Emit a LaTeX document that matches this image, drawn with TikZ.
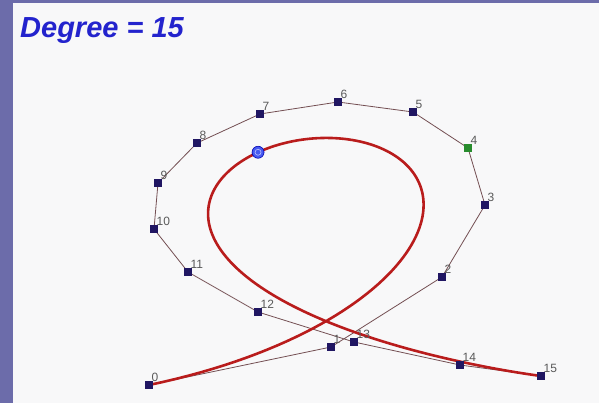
\documentclass[tikz,border=0pt]{standalone}
\usepackage{fontspec}
\setmainfont{Liberation Sans}
\usepackage{xcolor}
\usetikzlibrary{positioning, fpu}
\definecolor{slideblue}{RGB}{108, 108, 170}
\definecolor{paper}{RGB}{248, 248, 249}
\definecolor{titleblue}{RGB}{35, 35, 205}
\definecolor{ctrlnavy}{RGB}{32, 22, 98}
\definecolor{ctrlgreen}{RGB}{40, 140, 45}
\definecolor{polybrown}{RGB}{115, 78, 82}
\definecolor{curvered}{RGB}{185, 28, 28}
\definecolor{dotblue}{RGB}{70, 90, 240}

\begin{document}
\begin{tikzpicture}[
			x=1pt, y=-1pt,
			ctrl/.style={rectangle, fill=ctrlnavy, minimum size=8.5pt, inner sep=0pt},
			num/.style={anchor=south west, inner sep=0pt, font=\fontsize{12}{12}\selectfont, text=black!65},
			poly/.style={draw=polybrown, line width=0.8pt},
			curve/.style={draw=curvered, line width=2.6pt, line cap=round, line join=round}
		]
		\useasboundingbox (0,0) rectangle (599,403);
		\fill[slideblue] (0,0) rectangle (599,403);
		\fill[paper] (13,3) rectangle (599,403);
		
		\node[anchor=base west, inner sep=0pt, text=titleblue, font=\fontsize{29}{30}\selectfont\bfseries\itshape] (title) at (20,38) {Degree = 15};
		
		% control points, binomial weights for degree 15
		\let\tp\relax
		\def\bezx{0}\def\bezy{0}
		\foreach \px/\py/\c [count=\k from 0] in {149/385/1, 331/347/15, 442/277/105, 485/205/455, 468/148/1365, 413/112/3003, 338/102/5005, 260/114/6435, 197/143/6435, 158/183/5005, 154/229/3003, 188/272/1365, 258/312/455, 354/342/105, 460/365/15, 541/376/1}{
			\pgfmathtruncatemacro\m{15-\k}
			\xdef\bezx{\bezx+(\c*\tp^\k*(1-\tp)^\m)*\px}
			\xdef\bezy{\bezy+(\c*\tp^\k*(1-\tp)^\m)*\py}
			\coordinate (c\k) at (\px,\py);
		}
		
		% sample the curve with the fpu
		\def\curvepts{}
		\foreach \i in {1,...,199}{
			\pgfkeys{/pgf/fpu=true, /pgf/fpu/output format=fixed}
			\pgfmathsetmacro\tp{\i/200}
			\pgfmathsetmacro\qx{\bezx}
			\pgfmathsetmacro\qy{\bezy}
			\pgfkeys{/pgf/fpu=false}
			\xdef\curvepts{\curvepts (\qx,\qy)}
		}
		
		% control polygon
		\draw[poly] (c0) \foreach \k in {1,...,15}{ -- (c\k)};
		
		% Bezier curve
		\draw[curve] (c0) -- plot coordinates {\curvepts} -- (c15);
		
		% point at t = 1/2
		\pgfkeys{/pgf/fpu=true, /pgf/fpu/output format=fixed}
		\def\tp{0.5}
		\pgfmathsetmacro\hx{\bezx}
		\pgfmathsetmacro\hy{\bezy}
		\pgfkeys{/pgf/fpu=false}
		\node[circle, fill=dotblue, draw=blue!70!black, line width=0.6pt, minimum size=12pt, inner sep=0pt] (half) at (\hx,\hy) {};
		\draw[blue!25, line width=0.6pt] (half) circle (3pt);
		
		% control squares and their numbers
		\foreach \k in {0,...,15}{
			\node[ctrl] (p\k) at (c\k) {};
			\node[num] (n\k) at ([xshift=-2pt, yshift=-1pt]p\k.north east) {\k};
		}
		\node[ctrl, fill=ctrlgreen] at (c4) {};
		\end{tikzpicture}
\end{document}
